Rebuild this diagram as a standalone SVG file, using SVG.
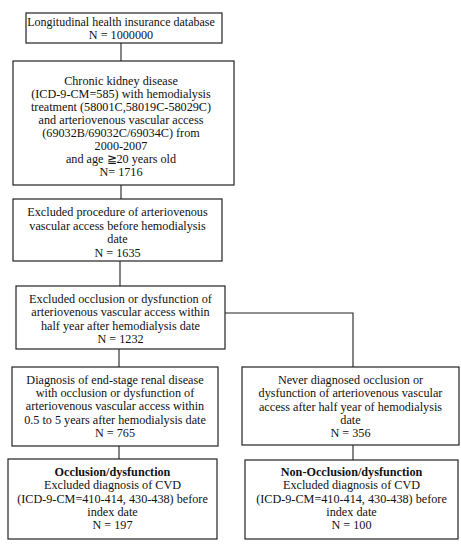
<svg xmlns="http://www.w3.org/2000/svg" width="461" height="550" viewBox="0 0 461 550">
<style>
rect{fill:#fff;stroke:#222;stroke-width:1.2}
text{font-family:"Liberation Serif","Times New Roman",serif;font-size:12.2px;fill:#111;text-anchor:middle}
.b{font-weight:bold}
#connectors path{fill:none;stroke:#222;stroke-width:1.1}
</style>
<rect x="0" y="0" width="461" height="550" style="stroke:none"/>
<g id="connectors">
<path d="M121,43V61"/>
<path d="M121,185V199"/>
<path d="M120,261V286"/>
<path d="M119,349V367"/>
<path d="M225,313H353V367"/>
<path d="M119,446V459"/>
<path d="M353,445V460"/>
</g>
<g id="n1"><rect x="26" y="13" width="196" height="30"/>
<text x="121" y="26" style="font-size:12px">Longitudinal health insurance database</text>
<text x="121" y="39">N = 1000000</text></g>
<g id="n2"><rect x="13" y="61" width="221" height="124"/>
<text x="121" y="85">Chronic kidney disease</text>
<text x="121" y="98">(ICD-9-CM=585) with hemodialysis</text>
<text x="121" y="111">treatment (58001C,58019C-58029C)</text>
<text x="121" y="124">and arteriovenous vascular access</text>
<text x="121" y="137">(69032B/69032C/69034C) from</text>
<text x="121" y="150">2000-2007</text>
<text x="121" y="163">and age  ≧20 years old</text>
<text x="121" y="176">N= 1716</text></g>
<g id="n3"><rect x="13" y="199" width="209" height="62"/>
<text x="117.5" y="216">Excluded procedure of arteriovenous</text>
<text x="117.5" y="229.5">vascular access before hemodialysis</text>
<text x="117.5" y="243">date</text>
<text x="117.5" y="256.5">N = 1635</text></g>
<g id="n4"><rect x="16" y="286" width="209" height="63"/>
<text x="120.5" y="303">Excluded occlusion or dysfunction of</text>
<text x="120.5" y="316">arteriovenous vascular access within</text>
<text x="120.5" y="329.5">half year after hemodialysis date</text>
<text x="120.5" y="343">N = 1232</text></g>
<g id="n5"><rect x="12" y="367" width="206" height="79"/>
<text x="115" y="383.5">Diagnosis of end-stage renal disease</text>
<text x="115" y="397">with occlusion or dysfunction of</text>
<text x="115" y="410">arteriovenous vascular access within</text>
<text x="115" y="423.5">0.5 to 5 years after hemodialysis date</text>
<text x="115" y="437">N = 765</text></g>
<g id="n6"><rect x="242" y="367" width="217" height="78"/>
<text x="350.5" y="384">Never diagnosed occlusion or</text>
<text x="350.5" y="397">dysfunction of arteriovenous vascular</text>
<text x="350.5" y="410.5">access after half year of hemodialysis</text>
<text x="350.5" y="424">date</text>
<text x="350.5" y="437">N = 356</text></g>
<g id="n7"><rect x="8" y="459" width="209" height="80"/>
<text class="b" x="112.5" y="476">Occlusion/dysfunction</text>
<text x="112.5" y="489">Excluded diagnosis of CVD</text>
<text x="112.5" y="502.5">(ICD-9-CM=410-414, 430-438) before</text>
<text x="112.5" y="515.5">index date</text>
<text x="112.5" y="529">N = 197</text></g>
<g id="n8"><rect x="245" y="460" width="213" height="79"/>
<text class="b" x="351.5" y="476">Non-Occlusion/dysfunction</text>
<text x="351.5" y="489">Excluded diagnosis of CVD</text>
<text x="351.5" y="502.5">(ICD-9-CM=410-414, 430-438) before</text>
<text x="351.5" y="515.5">index date</text>
<text x="351.5" y="529">N = 100</text></g>
</svg>
